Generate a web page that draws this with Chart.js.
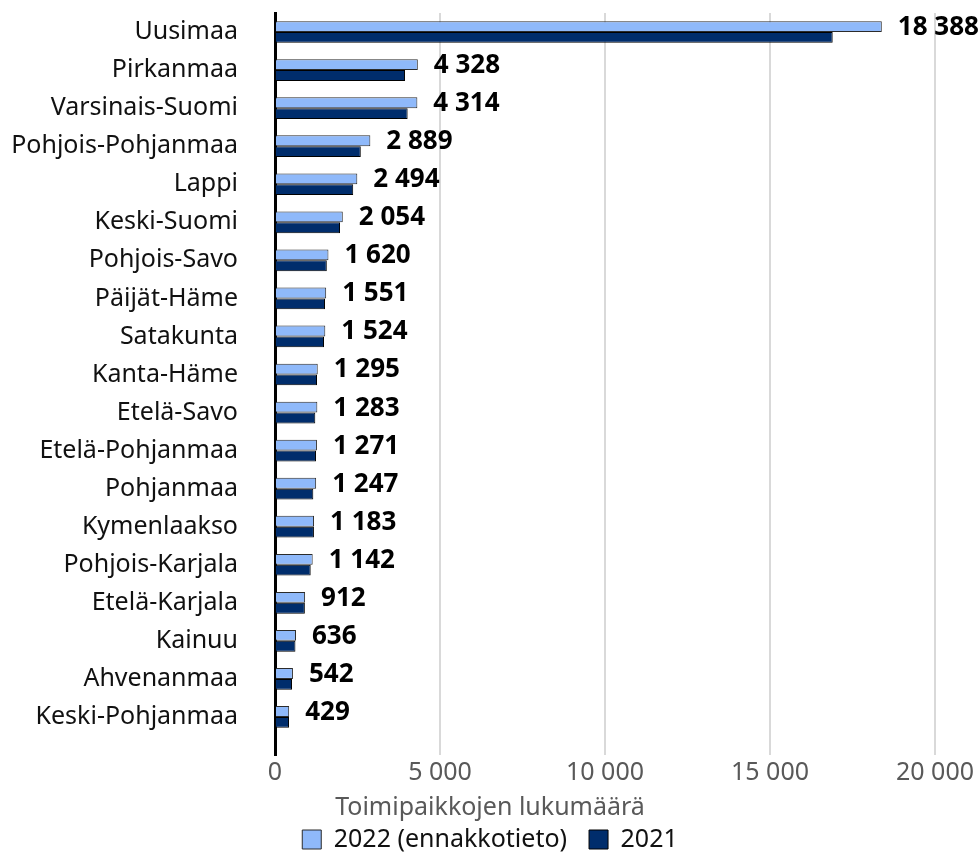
<!DOCTYPE html>
<html>
<head>
<meta charset="utf-8">
<script src="https://cdn.jsdelivr.net/npm/chart.js@4"></script>
<style>
  html, body { margin: 0; padding: 0; background: #fff; }
  #wrap { width: 980px; height: 852px; }
</style>
</head>
<body>
<div id="wrap"><canvas id="chartCanvas" width="980" height="852"></canvas></div>
<script>
// --- Data ---
const regions = [
  "Uusimaa", "Pirkanmaa", "Varsinais-Suomi", "Pohjois-Pohjanmaa", "Lappi",
  "Keski-Suomi", "Pohjois-Savo", "Päijät-Häme", "Satakunta", "Kanta-Häme",
  "Etelä-Savo", "Etelä-Pohjanmaa", "Pohjanmaa", "Kymenlaakso", "Pohjois-Karjala",
  "Etelä-Karjala", "Kainuu", "Ahvenanmaa", "Keski-Pohjanmaa"
];
const values2022 = [18388, 4328, 4314, 2889, 2494, 2054, 1620, 1551, 1524, 1295, 1283, 1271, 1247, 1183, 1142, 912, 636, 542, 429];
const values2021 = [16900, 3940, 4020, 2600, 2370, 1970, 1570, 1515, 1485, 1273, 1221, 1242, 1161, 1180, 1082, 905, 620, 515, 425];
const seriesNames = ["2022 (ennakkotieto)", "2021"];
const xTicks = [0, 5000, 10000, 15000, 20000];
const axisTitle = "Toimipaikkojen lukumäärä";

// thousands with a space: 18 388
const fmt = v => String(v).replace(/\B(?=(\d{3})+(?!\d))/g, " ");

Chart.defaults.font.family = "'Noto Sans', sans-serif";

// --- Value labels on the 2022 bars ---
const valueLabels = {
  id: "valueLabels",
  afterDatasetsDraw(chart) {
    const ctx = chart.ctx;
    const meta = chart.getDatasetMeta(0);
    ctx.save();
    ctx.font = "bold 26px 'Noto Sans', sans-serif";
    ctx.fillStyle = "#000";
    ctx.textAlign = "left";
    ctx.textBaseline = "middle";
    meta.data.forEach((bar, i) => {
      ctx.fillText(fmt(values2022[i]), bar.x + 16, bar.y + 1);
    });
    ctx.restore();
  }
};

const canvas = document.getElementById("chartCanvas").getContext("2d");

new Chart(canvas, {
  type: "bar",
  data: {
    labels: regions,
    datasets: [
      {
        label: seriesNames[0],
        data: values2022,
        backgroundColor: "#8FB9FA",
        borderColor: "#2b2b2b",
        borderWidth: 1,
        categoryPercentage: 0.57,
        barPercentage: 1
      },
      {
        label: seriesNames[1],
        data: values2021,
        backgroundColor: "#002D6C",
        borderColor: "#000",
        borderWidth: 1,
        categoryPercentage: 0.57,
        barPercentage: 1
      }
    ]
  },
  options: {
    responsive: false,
    animation: false,
    indexAxis: "y",
    layout: { padding: { top: 13, right: 0, left: 0, bottom: -10 } },
    scales: {
      x: {
        min: 0,
        max: 20000,
        afterBuildTicks: s => { s.ticks = xTicks.map(v => ({ value: v })); },
        // room on the right for the 18 388 label, without shifting title/legend
        afterFit: s => { s.paddingRight = 45; },
        ticks: { color: "#595959", font: { size: 25 }, padding: 3, callback: v => fmt(v) },
        grid: { color: "#d9d9d9", lineWidth: 2, drawTicks: false },
        border: { display: false }
      },
      y: {
        grid: { display: false },
        border: { display: true, color: "#000", width: 3 },
        ticks: { color: "#111", font: { size: 25 }, padding: 29, autoSkip: false },
        afterFit: s => { s.width = 275; s.paddingTop = 0; s.paddingBottom = 0; },
        // leave half a band of empty space under the last region, like the original
        afterBuildTicks: s => { s._valueRange = regions.length + 0.5; }
      }
    },
    plugins: {
      tooltip: { enabled: false },
      title: {
        display: true,
        position: "bottom",
        text: axisTitle,
        color: "#595959",
        font: { size: 25, weight: "normal" },
        padding: { top: 2, bottom: -18 },
        weight: 500
      },
      legend: {
        position: "bottom",
        weight: 1000,
        labels: {
          color: "#111",
          font: { size: 25 },
          boxWidth: 19,
          boxHeight: 19,
          padding: 22
        }
      }
    }
  },
  plugins: [valueLabels]
});
</script>
</body>
</html>
